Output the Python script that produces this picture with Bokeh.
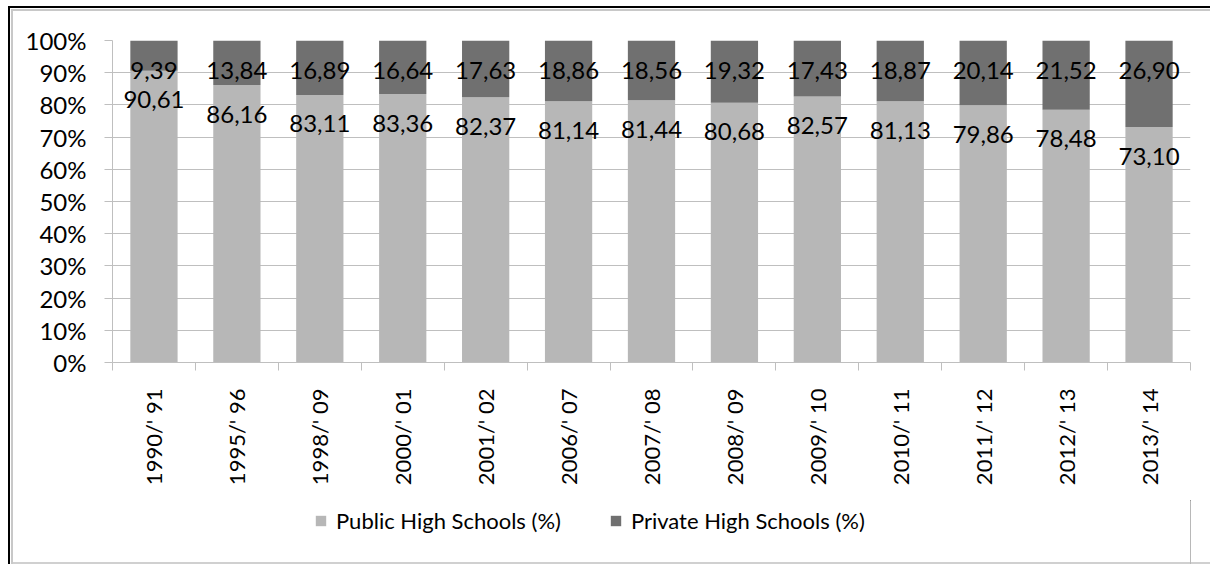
import numpy as np
from bokeh.plotting import figure
from bokeh.layouts import column
from bokeh.models import (ColumnDataSource, FixedTicker, Range1d, Legend,
                          LegendItem)
from bokeh.embed import file_html
from bokeh.resources import INLINE
from bokeh.core.properties import value

# School years and the share of high schools by type (%)
years = ["1990/' 91", "1995/' 96", "1998/' 09", "2000/' 01", "2001/' 02",
         "2006/' 07", "2007/' 08", "2008/' 09", "2009/' 10", "2010/' 11",
         "2011/' 12", "2012/' 13", "2013/' 14"]
public = [90.61, 86.16, 83.11, 83.36, 82.37, 81.14, 81.44, 80.68, 82.57,
          81.13, 79.86, 78.48, 73.10]
private = [9.39, 13.84, 16.89, 16.64, 17.63, 18.86, 18.56, 19.32, 17.43,
           18.87, 20.14, 21.52, 26.90]
series_names = ["Public High Schools (%)", "Private High Schools (%)"]
y_ticks = [0, 10, 20, 30, 40, 50, 60, 70, 80, 90, 100]

FONT = "Lato"
FS = "22px"
FS_NUM = "24px"
GRID = "#bfbfbf"
COLORS = ["#b7b7b7", "#707070"]
W = 1210
H_CHART = 500
H_LEGEND = 64


def fmt(v):
    return f"{v:.2f}".replace(".", ",")


x = [i + 0.5 for i in range(len(years))]
top = [a + b for a, b in zip(public, private)]
src = ColumnDataSource(dict(
    x=x, public=public, private=private, top=top,
    pub_lbl=[fmt(v) for v in public],
    priv_lbl=[fmt(v) for v in private],
))

# page frame drawn as stacked inset shadows: black rule top/left,
# a thin grey rule just inside it, and a grey rule along the bottom
top_frame = ("inset 8px 6px 0 0 #ffffff, inset 10px 8px 0 0 #000000, "
             "inset 11px 9px 0 0 #ffffff, inset 13px 11px 0 0 #c8c8c8")
bottom_frame = ("inset 8px 0 0 0 #ffffff, inset 10px 0 0 0 #000000, "
                "inset 11px 0 0 0 #ffffff, inset 13px 0 0 0 #c8c8c8, "
                "inset 0 -2px 0 0 #d0d0d0")

p = figure(width=W, height=H_CHART,
           x_range=Range1d(0, len(years)), y_range=Range1d(0, 100),
           output_backend="svg", toolbar_location=None,
           min_border_left=112, min_border_right=20,
           min_border_top=40, min_border_bottom=138,
           styles={"box-shadow": top_frame, "background-color": "#ffffff"})
p.outline_line_color = None
p.background_fill_color = "white"
p.border_fill_color = None

p.vbar_stack(["public", "private"], x="x", width=0.57,
             color=COLORS, line_color=None, source=src)

# value labels, placed just inside the end of each segment
p.text(x="x", y="public", text="pub_lbl", source=src,
       text_align="center", text_baseline="middle", y_offset=29,
       text_font=value(FONT), text_font_size=FS_NUM, text_color="black")
p.text(x="x", y="top", text="priv_lbl", source=src,
       text_align="center", text_baseline="middle", y_offset=30,
       text_font=value(FONT), text_font_size=FS_NUM, text_color="black")

# grid
p.xgrid.grid_line_color = None
p.ygrid.grid_line_color = GRID
p.ygrid.ticker = FixedTicker(ticks=y_ticks)

# y axis
ya = p.yaxis[0]
ya.ticker = FixedTicker(ticks=y_ticks)
ya.major_label_overrides = {t: f"{t}%" for t in y_ticks}
ya.axis_line_color = GRID
ya.major_tick_line_color = GRID
ya.major_tick_out = 8
ya.major_tick_in = 0
ya.minor_tick_line_color = None
ya.major_label_standoff = 18
ya.major_label_text_font = FONT
ya.major_label_text_font_size = FS_NUM
ya.major_label_text_color = "black"

# x axis: names at bar centres, tick marks between categories
xa = p.xaxis[0]
xa.ticker = FixedTicker(ticks=x, minor_ticks=list(range(len(years) + 1)))
xa.major_label_overrides = {xi: yr for xi, yr in zip(x, years)}
xa.axis_line_color = GRID
xa.major_tick_line_color = None
xa.major_tick_out = 0
xa.major_tick_in = 0
xa.minor_tick_line_color = GRID
xa.minor_tick_out = 8
xa.minor_tick_in = 0
xa.major_label_orientation = np.pi / 2
xa.major_label_standoff = 18
xa.major_label_text_font = FONT
xa.major_label_text_font_size = FS
xa.major_label_text_color = "black"

# legend strip under the chart; its renderers share the chart's data but
# the strip's x range lies outside it, so only the legend swatches show
pl = figure(width=W, height=H_LEGEND, x_range=Range1d(-3, -2),
            y_range=Range1d(0, 1), x_axis_type=None, y_axis_type=None,
            output_backend="svg", toolbar_location=None,
            min_border_left=0, min_border_right=0,
            min_border_top=0, min_border_bottom=0,
            styles={"box-shadow": bottom_frame, "background-color": "#ffffff"})
pl.outline_line_color = None
pl.background_fill_color = None
pl.border_fill_color = None
pl.xgrid.visible = False
pl.ygrid.visible = False

swatches = pl.vbar_stack(["public", "private"], x="x", width=0.57,
                         color=COLORS, line_color=None, source=src)
legend = Legend(
    items=[LegendItem(label=n, renderers=[r])
           for n, r in zip(series_names, swatches)],
    orientation="horizontal", location=(202, 30),
    glyph_width=13, glyph_height=13, label_standoff=9, spacing=48,
    padding=0, margin=0, border_line_color=None, background_fill_alpha=0,
    label_text_font=FONT, label_text_font_size=FS, label_text_color="black",
)
pl.add_layout(legend)

page = column(p, pl, spacing=0)
open("out.html", "w").write(file_html(page, INLINE))
